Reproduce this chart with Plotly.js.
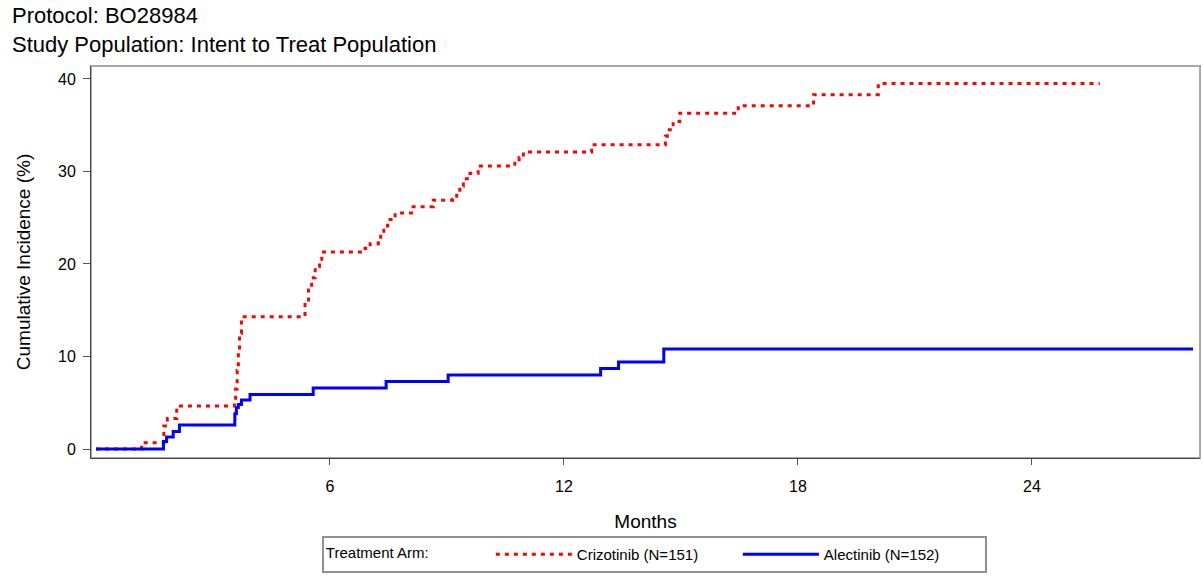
<!DOCTYPE html>
<html>
<head>
<meta charset="utf-8">
<script src="https://cdn.plot.ly/plotly-3.0.1.min.js"></script>
<style>html,body{margin:0;padding:0;background:#fff;}#chart{width:1203px;height:576px;}</style>
</head>
<body>
<div id="chart"></div>
<script>
// Crizotinib (N=151) cumulative incidence step points (months, %)
var crizMonths = [0, 1.17, 1.74, 1.83, 2.07, 3.55, 3.58, 3.62, 3.65, 3.68, 3.73, 5.25, 5.36, 5.45, 5.53, 5.62, 5.73, 5.79, 6.85, 6.9, 7.03, 7.24, 7.3, 7.38, 7.48, 7.67, 8.09, 8.65, 9.15, 9.25, 9.33, 9.42, 9.59, 9.8, 10.62, 10.74, 10.85, 10.96, 12.71, 14.6, 14.65, 14.8, 14.97, 16.47, 18.4, 20.06, 25.74];
var crizValues = [0, 0.68, 2.5, 3.3, 4.65, 5.2, 6.5, 8.5, 10.5, 12.5, 14.3, 14.3, 15.8, 17.2, 18.5, 19.7, 20.5, 21.3, 21.3, 21.7, 22.2, 22.7, 23.3, 24.1, 24.8, 25.5, 26.2, 26.9, 27.0, 27.6, 28.4, 29.2, 29.8, 30.6, 30.6, 31.1, 31.5, 32.1, 32.9, 33.8, 34.5, 35.4, 36.3, 37.1, 38.3, 39.5, 39.5];
// Alectinib (N=152)
var alecMonths = [0, 1.73, 1.81, 1.98, 2.14, 3.56, 3.6, 3.65, 3.73, 3.95, 5.57, 7.44, 9.03, 12.94, 13.4, 14.56, 28.13];
var alecValues = [0, 0.8, 1.3, 1.9, 2.6, 3.8, 4.5, 4.8, 5.3, 5.9, 6.6, 7.3, 8.0, 8.7, 9.4, 10.8, 10.8];

var titleLines = ["Protocol: BO28984", "Study Population: Intent to Treat Population"];
var xTicks = [6, 12, 18, 24];
var yTicks = [0, 10, 20, 30, 40];
var seriesNames = ["Crizotinib (N=151)", "Alectinib (N=152)"];
var legendTitle = "Treatment Arm:";

var FONT = "Liberation Sans, Arial, sans-serif";

var traces = [
  {
    x: crizMonths, y: crizValues, type: "scatter", mode: "lines",
    name: seriesNames[0],
    line: {shape: "hv", color: "#ff0000", width: 3, dash: "4px,5px"}
  },
  {
    x: alecMonths, y: alecValues, type: "scatter", mode: "lines",
    name: seriesNames[1],
    line: {shape: "hv", color: "#0000ff", width: 3}
  }
];

var layout = {
  width: 1203, height: 576,
  margin: {l: 91, r: 3, t: 66, b: 118, autoexpand: false},
  paper_bgcolor: "#ffffff", plot_bgcolor: "#ffffff",
  font: {family: FONT, size: 16, color: "#000"},
  showlegend: true,
  xaxis: {
    range: [-0.128, 28.31],
    tickvals: xTicks, ticktext: xTicks.map(String),
    ticks: "outside", ticklen: 6, tickcolor: "#555", tickwidth: 1,
    ticklabelstandoff: 8,
    showgrid: false, zeroline: false,
    showline: true, linecolor: "#444", linewidth: 1,
    tickfont: {family: FONT, size: 16, color: "#000"},
    title: {text: "Months", font: {family: FONT, size: 19, color: "#000"}, standoff: 20}
  },
  yaxis: {
    range: [-0.97, 41.4],
    tickvals: yTicks, ticktext: yTicks.map(String),
    ticks: "outside", ticklen: 7, tickcolor: "#555", tickwidth: 1,
    ticklabelstandoff: 4,
    showgrid: false, zeroline: false,
    showline: true, linecolor: "#444", linewidth: 1,
    tickfont: {family: FONT, size: 16, color: "#000"},
    title: {text: "Cumulative Incidence (%)", font: {family: FONT, size: 19, color: "#000"}, standoff: 22}
  },
  shapes: [
    {type: "rect", xref: "paper", yref: "paper", x0: 0, x1: 1, y0: 0, y1: 1,
     line: {color: "#a8a8a8", width: 2}, layer: "below"}
  ],
  annotations: [
    {xref: "paper", yref: "paper", x: -0.073, y: 1.1276, xanchor: "left", yanchor: "middle",
     text: titleLines[0], showarrow: false, font: {family: FONT, size: 22, color: "#000"}},
    {xref: "paper", yref: "paper", x: -0.073, y: 1.0561, xanchor: "left", yanchor: "middle",
     text: titleLines[1], showarrow: false, font: {family: FONT, size: 22, color: "#000"}}
  ],
  legend: {
    orientation: "h",
    x: 0.508, xanchor: "center", xref: "paper",
    y: -0.2934, yanchor: "bottom", yref: "paper",
    bordercolor: "#909090", borderwidth: 2, bgcolor: "#fff",
    font: {family: FONT, size: 15, color: "#000"},
    title: {text: legendTitle + "             ", side: "left", font: {family: FONT, size: 15, color: "#000"}},
    itemwidth: 76, entrywidth: 156, traceorder: "normal"
  }
};

Plotly.newPlot("chart", traces, layout, {displayModeBar: false, staticPlot: true});
</script>
</body>
</html>
